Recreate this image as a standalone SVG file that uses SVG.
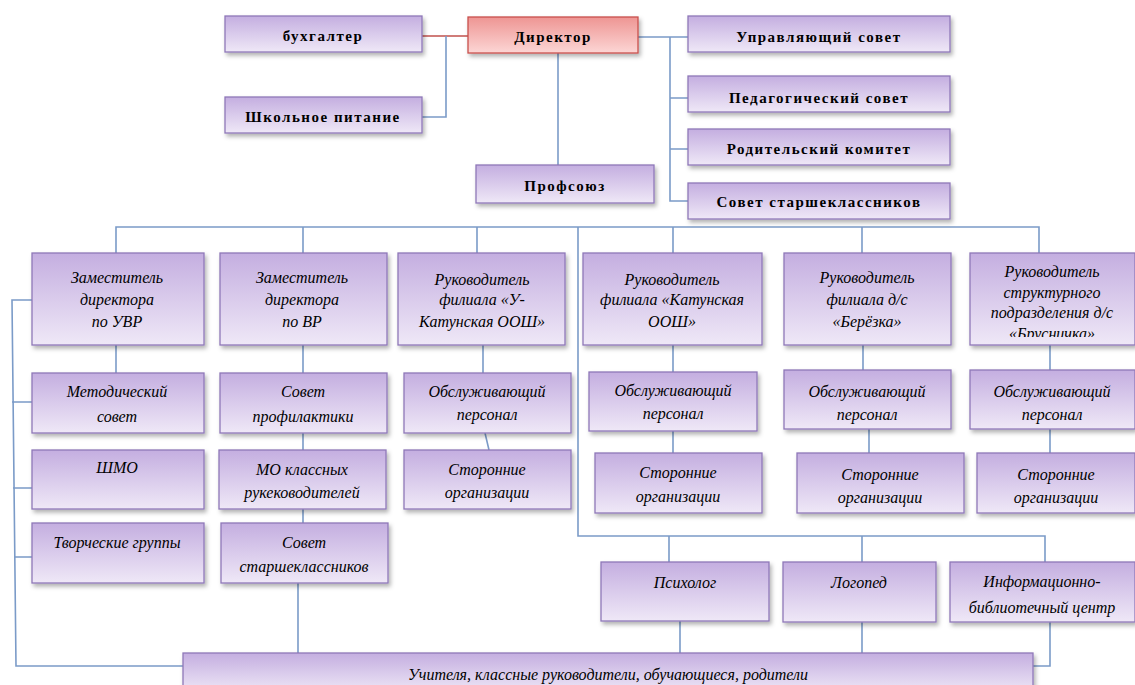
<svg xmlns="http://www.w3.org/2000/svg" width="1135" height="685" viewBox="0 0 1135 685">
<defs>
<linearGradient id="gP" x1="0" y1="0" x2="0" y2="1">
<stop offset="0" stop-color="#c4aee0"/>
<stop offset="1" stop-color="#efe8f7"/>
</linearGradient>
<linearGradient id="gR" x1="0" y1="0" x2="0" y2="1">
<stop offset="0" stop-color="#ee9593"/>
<stop offset="1" stop-color="#fcd6d5"/>
</linearGradient>
<filter id="sh" x="-10%" y="-10%" width="130%" height="140%">
<feDropShadow dx="2" dy="3" stdDeviation="2" flood-color="#000" flood-opacity="0.3"/>
</filter>
<clipPath id="clipS"><rect x="970" y="253" width="165" height="84"/></clipPath>
<style>
.box{fill:url(#gP);stroke:#8f78b8;stroke-width:1.3;filter:url(#sh)}
.dir{fill:url(#gR);stroke:#c9504c;stroke-width:1.3;filter:url(#sh)}
.ln{stroke:#7b9bc8;stroke-width:1.6;fill:none}
.red{stroke:#c0504d;stroke-width:1.6;fill:none}
.tb{font-family:"Liberation Serif","DejaVu Serif",serif;font-weight:bold;font-size:15px;letter-spacing:1.5px;text-anchor:middle;fill:#000}
.ti{font-family:"Liberation Serif","DejaVu Serif",serif;font-style:italic;font-size:16px;text-anchor:middle;fill:#000}
</style>
</defs>
<rect width="1135" height="685" fill="#fff"/>
<g id="connectors">
<path class="red" d="M422 36H468"/>
<path class="ln" d="M446 36V117H422"/>
<path class="ln" d="M638 37H688M670 37V201H688M670 98H688M670 149H688"/>
<path class="ln" d="M558 53V165"/>
<path class="ln" d="M116 253V227H1039V253M303 227V253M477 227V253M673 227V253M862 227V253"/>
<path class="ln" d="M578 227V536H1045V562M669 536V562M862 536V562"/>
<path class="ln" d="M32 300H12L16 666H183M12 402H32M13 488H32M14 557H32"/>
<path class="ln" d="M116 345V373"/>
<path class="ln" d="M303 345V373M303 433V450M303 509V523M298 583V653"/>
<path class="ln" d="M483 345V373M485 433L489 450"/>
<path class="ln" d="M673 345V372M673 431V453"/>
<path class="ln" d="M863 345V370M869 429V453"/>
<path class="ln" d="M1050 345V370M1050 429V453"/>
<path class="ln" d="M680 621V653M862 622V653M1050 622V666H1033"/>
</g>
<g id="n-buh"><rect class="box" x="225" y="16" width="197" height="36"/><text class="tb" x="323" y="41">бухгалтер</text></g>
<g id="n-dir"><rect class="dir" x="468" y="17" width="170" height="36"/><text class="tb" x="553" y="42">Директор</text></g>
<g id="n-pit"><rect class="box" x="225" y="97" width="197" height="36"/><text class="tb" x="323" y="122">Школьное питание</text></g>
<g id="n-upr"><rect class="box" x="688" y="16" width="262" height="36"/><text class="tb" x="819" y="42">Управляющий совет</text></g>
<g id="n-ped"><rect class="box" x="688" y="76" width="262" height="36"/><text class="tb" x="819" y="103">Педагогический совет</text></g>
<g id="n-rod"><rect class="box" x="688" y="129" width="262" height="36"/><text class="tb" x="819" y="154">Родительский комитет</text></g>
<g id="n-sst"><rect class="box" x="688" y="183" width="262" height="36"/><text class="tb" x="819" y="207">Совет старшеклассников</text></g>
<g id="n-prof"><rect class="box" x="476" y="165" width="178" height="38"/><text class="tb" x="565" y="191">Профсоюз</text></g>

<g id="n-zuvr"><rect class="box" x="32" y="253" width="172" height="92"/><text class="ti" x="117" y="283">Заместитель</text><text class="ti" x="117" y="305">директора</text><text class="ti" x="117" y="327">по УВР</text></g>
<g id="n-zvr"><rect class="box" x="220" y="253" width="167" height="92"/><text class="ti" x="302" y="283">Заместитель</text><text class="ti" x="302" y="305">директора</text><text class="ti" x="302" y="327">по ВР</text></g>
<g id="n-ukat"><rect class="box" x="398" y="253" width="167" height="92"/><text class="ti" x="482" y="285">Руководитель</text><text class="ti" x="482" y="305">филиала «У-</text><text class="ti" x="482" y="327">Катунская ООШ»</text></g>
<g id="n-kat"><rect class="box" x="583" y="253" width="179" height="92"/><text class="ti" x="672" y="285">Руководитель</text><text class="ti" x="672" y="305">филиала «Катунская</text><text class="ti" x="672" y="327">ООШ»</text></g>
<g id="n-ber"><rect class="box" x="784" y="253" width="167" height="92"/><text class="ti" x="867" y="283">Руководитель</text><text class="ti" x="867" y="305">филиала д/с</text><text class="ti" x="867" y="327">«Берёзка»</text></g>
<g id="n-str"><rect class="box" x="970" y="253" width="165" height="92"/><g clip-path="url(#clipS)"><text class="ti" x="1052" y="277">Руководитель</text><text class="ti" x="1052" y="298">структурного</text><text class="ti" x="1052" y="318">подразделения д/с</text><text class="ti" x="1052" y="339">«Брусничка»</text></g></g>

<g id="n-met"><rect class="box" x="32" y="373" width="172" height="60"/><text class="ti" x="117" y="397">Методический</text><text class="ti" x="117" y="422">совет</text></g>
<g id="n-shmo"><rect class="box" x="32" y="450" width="172" height="59"/><text class="ti" x="117" y="473">ШМО</text></g>
<g id="n-tvor"><rect class="box" x="32" y="523" width="172" height="60"/><text class="ti" x="117" y="548">Творческие группы</text></g>
<g id="n-prof2"><rect class="box" x="220" y="373" width="167" height="60"/><text class="ti" x="303" y="397">Совет</text><text class="ti" x="303" y="422">профилактики</text></g>
<g id="n-mo"><rect class="box" x="219" y="450" width="167" height="59"/><text class="ti" x="302" y="475">МО классных</text><text class="ti" x="302" y="498">рукеководителей</text></g>
<g id="n-sst2"><rect class="box" x="221" y="523" width="167" height="60"/><text class="ti" x="304" y="548">Совет</text><text class="ti" x="304" y="572">старшеклассников</text></g>

<g id="n-obs1"><rect class="box" x="404" y="373" width="167" height="60"/><text class="ti" x="487" y="397">Обслуживающий</text><text class="ti" x="487" y="420">персонал</text></g>
<g id="n-sto1"><rect class="box" x="404" y="450" width="167" height="59"/><text class="ti" x="487" y="475">Сторонние</text><text class="ti" x="487" y="498">организации</text></g>
<g id="n-obs2"><rect class="box" x="589" y="372" width="168" height="59"/><text class="ti" x="673" y="396">Обслуживающий</text><text class="ti" x="673" y="419">персонал</text></g>
<g id="n-sto2"><rect class="box" x="595" y="453" width="167" height="60"/><text class="ti" x="678" y="478">Сторонние</text><text class="ti" x="678" y="502">организации</text></g>
<g id="n-obs3"><rect class="box" x="784" y="370" width="167" height="59"/><text class="ti" x="867" y="397">Обслуживающий</text><text class="ti" x="867" y="420">персонал</text></g>
<g id="n-sto3"><rect class="box" x="797" y="453" width="167" height="60"/><text class="ti" x="880" y="480">Сторонние</text><text class="ti" x="880" y="503">организации</text></g>
<g id="n-obs4"><rect class="box" x="970" y="370" width="165" height="59"/><text class="ti" x="1052" y="397">Обслуживающий</text><text class="ti" x="1052" y="420">персонал</text></g>
<g id="n-sto4"><rect class="box" x="977" y="453" width="158" height="60"/><text class="ti" x="1056" y="480">Сторонние</text><text class="ti" x="1056" y="503">организации</text></g>

<g id="n-psy"><rect class="box" x="601" y="562" width="168" height="59"/><text class="ti" x="685" y="588">Психолог</text></g>
<g id="n-log"><rect class="box" x="783" y="562" width="153" height="60"/><text class="ti" x="859" y="588">Логопед</text></g>
<g id="n-ibc"><rect class="box" x="950" y="562" width="185" height="60"/><text class="ti" x="1042" y="587">Информационно-</text><text class="ti" x="1042" y="613">библиотечный центр</text></g>
<g id="n-uch"><rect class="box" x="183" y="653" width="850" height="40"/><text class="ti" x="608" y="680">Учителя, классные руководители, обучающиеся, родители</text></g>
</svg>
